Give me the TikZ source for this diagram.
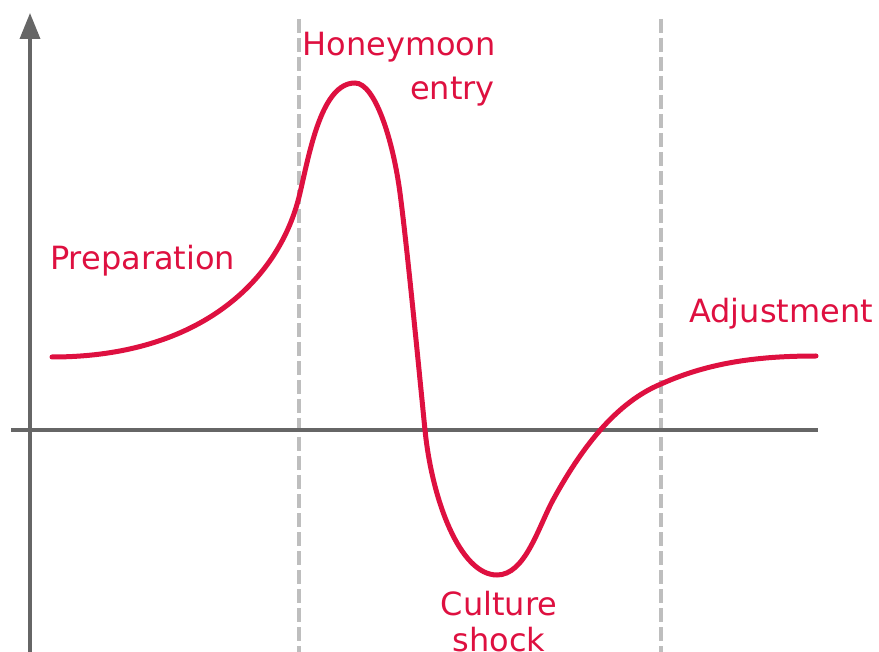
\documentclass[tikz,border=0pt]{standalone}
\usepackage{fontspec}
\setmainfont{DejaVu Sans}
\usetikzlibrary{arrows.meta}
\definecolor{curvered}{RGB}{222,16,64}
\definecolor{axisgray}{RGB}{102,102,102}
\definecolor{dashgray}{RGB}{190,190,190}
\begin{document}
\begin{tikzpicture}[x=1pt,y=-1pt,
  axisline/.style={draw=axisgray,line width=3.5pt},
  phaseline/.style={draw=dashgray,line width=3.2pt,dash pattern=on 14pt off 5pt},
  curveline/.style={draw=curvered,line width=5pt,line cap=round},
  phaselabel/.style={text=curvered,inner sep=0pt,font=\fontsize{32}{43}\selectfont}]
\useasboundingbox (0,0) rectangle (879,652);
% phase separators
\coordinate (d1t) at (299,19); \coordinate (d1b) at (299,660);
\coordinate (d2t) at (661,19); \coordinate (d2b) at (661,660);
\draw[phaseline] (d1t) -- (d1b);
\draw[phaseline] (d2t) -- (d2b);
% axes
\coordinate (ybot) at (30,660); \coordinate (ytop) at (30,13);
\coordinate (xl) at (11,430); \coordinate (xr) at (818,430);
\draw[axisline,-{Triangle[length=26pt,width=20pt]}] (ybot) -- (ytop);
\draw[axisline] (xl) -- (xr);
% curve
\coordinate (c0) at (52,357);
\coordinate (c1) at (300,193);
\coordinate (c2) at (355,83);
\coordinate (c3) at (400,193);
\coordinate (c4) at (425,430);
\coordinate (c5) at (497,575);
\coordinate (c6) at (553,500);
\coordinate (c7) at (661,384);
\coordinate (c8) at (816,356);
\draw[curveline] (c0)
  .. controls (200,357) and (280,280) .. (c1)
  .. controls (310,150) and (322,83) .. (c2)
  .. controls (375,83) and (393,140) .. (c3)
  .. controls (407,246) and (418,360) .. (c4)
  .. controls (432,500) and (460,575) .. (c5)
  .. controls (525,575) and (538,528) .. (c6)
  .. controls (575,460) and (610,405) .. (c7)
  .. controls (710,362) and (760,356) .. (c8);
% labels
\node[phaselabel,anchor=base west] (prep) at (50,270) {Preparation};
\node[phaselabel,anchor=base east] (honey1) at (496,56) {Honeymoon};
\node[phaselabel,anchor=base east] (honey2) at (495,100) {entry};
\node[phaselabel,anchor=base] (cult1) at (499,615) {Culture};
\node[phaselabel,anchor=base] (cult2) at (499,651) {shock};
\node[phaselabel,anchor=base west] (adj) at (689,323) {Adjustment};
\end{tikzpicture}
\end{document}
